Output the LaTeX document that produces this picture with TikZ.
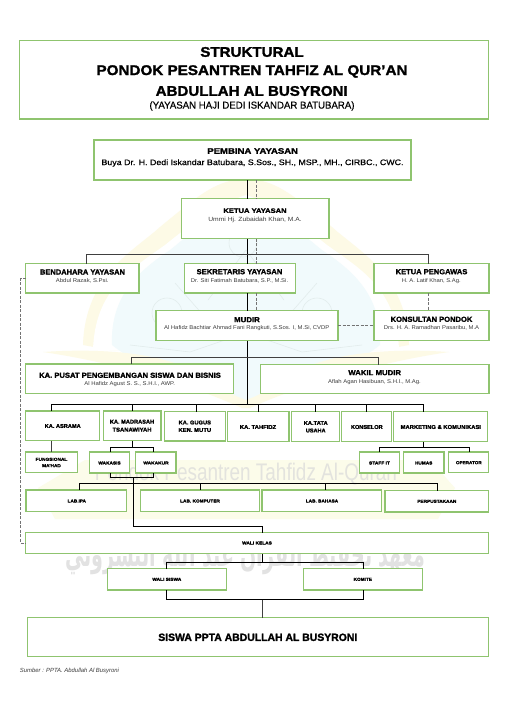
\documentclass[tikz,border=0pt]{standalone}
\usepackage{graphicx}
\usepackage{fontspec}
\setmainfont{Liberation Sans}[BoldFeatures={FakeBold=1.6}]
\newfontfamily\semifont[FakeBold=0.5]{Liberation Sans}
\newfontfamily\arabicwm[Script=Arabic]{DejaVu Sans}
\TeXXeTstate=1
\definecolor{boxgreen}{HTML}{8FC46F}
\definecolor{wmyellow}{HTML}{FDFAE6}
\definecolor{wmblue}{HTML}{F1FAFC}
\definecolor{wmbanner}{HTML}{FCFCEA}
\definecolor{wmline}{HTML}{E2ECEC}
\definecolor{wmtext}{HTML}{E3E3DE}
\definecolor{wmarab}{HTML}{E2E2E2}
\definecolor{subgray}{HTML}{3A3A3A}
\tikzset{
  orgbox/.style={draw=boxgreen,line width=1.1pt,fill=white,inner sep=0pt,outer sep=0pt},
  conn/.style={draw=black,line width=0.9pt},
  connsoft/.style={draw=black!75,line width=0.9pt},
  dashconn/.style={draw=black!55,line width=0.6pt,dash pattern=on 3pt off 1.5pt},
  lab/.style={inner sep=0pt,outer sep=0pt,anchor=center},
}
% name, x1, y1, x2, y2
\newcommand\obox[5]{\node[orgbox,minimum width={(#4-#2)*1pt},minimum height={(#5-#3)*1pt}] (#1) at ({(#2+#4)/2},{(#3+#5)/2}) {};}
% name, x, y, size, width, text  (bold)
\newcommand\hd[6]{\node[lab] (#1) at (#2,#3) {\fontsize{#4}{#4}\selectfont\bfseries\resizebox{#5pt}{\height}{#6}};}
% regular
\newcommand\nm[6]{\node[lab,text=subgray] (#1) at (#2,#3) {\fontsize{#4}{#4}\selectfont\resizebox{#5pt}{\height}{#6}};}
\begin{document}
\begin{tikzpicture}[x=1pt,y=-1pt]
\useasboundingbox (0,0) rectangle (508,718);
\fill[white] (0,0) rectangle (508,718);
% ---- watermark ----
\fill[wmyellow] (246,178) .. controls (215,182) and (205,190) .. (160,227) .. controls (135,250) and (85,275) .. (83,345) -- (110,350) -- (382,350) -- (409,345) .. controls (407,275) and (357,250) .. (332,227) .. controls (287,190) and (277,182) .. (246,178) -- cycle;
\fill[white] (246,195) .. controls (215,205) and (190,225) .. (165,245) .. controls (130,270) and (95,290) .. (93,350) -- (399,350) .. controls (397,290) and (362,270) .. (327,245) .. controls (302,225) and (277,205) .. (246,195) -- cycle;
\fill[wmblue] (246,200) .. controls (215,210) and (195,230) .. (170,250) .. controls (140,270) and (110,295) .. (112,345) .. controls (150,375) and (200,390) .. (246,400) .. controls (292,390) and (342,375) .. (380,345) .. controls (382,295) and (352,270) .. (322,250) .. controls (297,230) and (277,210) .. (246,200) -- cycle;
\fill[wmyellow] (43,352) .. controls (100,348) and (170,352) .. (205,378) .. controls (225,392) and (240,398) .. (246,400) .. controls (252,398) and (267,392) .. (287,378) .. controls (322,352) and (392,348) .. (449,352) .. controls (380,362) and (300,385) .. (250,408) -- (242,408) .. controls (192,385) and (112,362) .. (43,352) -- cycle;
\draw[wmline,line width=0.6pt] (167,313) circle[radius=15] (317,313) circle[radius=15] (243,243) circle[radius=14];
\draw[wmline,line width=0.6pt] (175,283) -- (225,340) -- (190,352) -- (130,345) (317,283) -- (267,340) -- (302,352) -- (362,345) (208,300) -- (246,250) -- (284,300);
\fill[wmbanner] (85,460) -- (430,460) -- (455,488) -- (438,519) -- (55,519) -- (38,488) -- cycle;
\node[lab,text=wmtext] (wmlatin) at (246,474) {\fontsize{24}{24}\selectfont\resizebox{302pt}{\height}{Pondok Pesantren Tahfidz Al-Quran}};
\node[lab,text=wmarab] (wmarabic) at (245,554) {\fontsize{34}{34}\arabicwm\bfseries\resizebox{360pt}{\height}{\beginR معهد تحفيظ القرآن عبد الله البشروني\endR}};
% ---- boxes ----
\obox{title}{19.5}{40.5}{488.5}{119}
\obox{pembina}{94}{140}{411}{180}
\obox{ketua}{181.5}{198.5}{329}{238.5}
\obox{bendahara}{25.5}{263.5}{139}{293}
\obox{sekretaris}{184.5}{263.5}{295.5}{293}
\obox{pengawas}{374}{263.5}{489}{293}
\obox{mudir}{156}{310.5}{338}{340.5}
\obox{konsultan}{374}{310.5}{489}{340.5}
\obox{pusat}{25.5}{364}{233.5}{393.5}
\obox{wakil}{260.5}{364.5}{489}{393.5}
\obox{asrama}{25.5}{411}{99.5}{440.5}
\obox{madrasah}{103.5}{411}{161}{440.5}
\obox{gugus}{164.5}{411.5}{225.5}{441}
\obox{tahfidz}{227.5}{411.5}{289}{441.5}
\obox{tata}{291.5}{411.5}{339.5}{441.5}
\obox{konselor}{341.5}{411.5}{391.5}{441.5}
\obox{marketing}{393.5}{411.5}{487.5}{441.5}
\obox{fungsional}{25.5}{452}{77.5}{472.5}
\obox{wakasis}{89.5}{452}{129.5}{473}
\obox{wakakur}{135.5}{452}{176}{473}
\obox{staff}{359.5}{452}{399.5}{473}
\obox{humas}{403.5}{452}{444}{473}
\obox{operator}{448.5}{452}{488.5}{472.5}
\obox{labipa}{26}{490}{126.5}{511.5}
\obox{labkom}{140.5}{490}{259.5}{511.5}
\obox{labbhs}{262}{490}{381.5}{511.5}
\obox{perpus}{385}{490.5}{488.5}{512}
\obox{walikelas}{25.5}{532.5}{488.5}{553.5}
\obox{walisiswa}{107.5}{568.5}{226.5}{590}
\obox{komite}{303.5}{568.5}{422.5}{590}
\obox{siswa}{27.5}{617.5}{488.5}{656.5}
% ---- connector guide coordinates ----
\coordinate (tr) at (247.5,0);
\coordinate (dsh) at (256.5,0);
\coordinate (barA) at (0,254.5);
\coordinate (barB) at (0,357);
\coordinate (barC) at (0,404);
\coordinate (barD) at (0,447.5);
\coordinate (barE) at (0,477);
\coordinate (barF) at (0,483.5);
\coordinate (barG) at (0,526);
\coordinate (barH) at (0,562);
\coordinate (barI) at (0,599.5);
\coordinate (xBen) at (86.5,0);
\coordinate (xPen) at (428,0);
\coordinate (xPus) at (131,0);
\coordinate (xWak) at (378.5,0);
\coordinate (xAsr) at (51.5,0);
\coordinate (xMad) at (132.5,0);
\coordinate (xGug) at (196,0);
\coordinate (xTah) at (258.5,0);
\coordinate (xMkt) at (423.3,0);
\coordinate (xAs) at (110,0);
\coordinate (xAk) at (153.5,0);
\coordinate (xTrk) at (133.5,0);
\coordinate (xWK) at (262.5,0);
\coordinate (xWS) at (166,0);
\coordinate (xKom) at (363.5,0);
\coordinate (xSt) at (379.5,0);
\coordinate (xOp) at (469.5,0);
\coordinate (xLI) at (79.5,0);
\coordinate (xLK) at (200,0);
\coordinate (xLB) at (325,0);
\coordinate (xLP) at (437,0);
\coordinate (xL) at (20.5,0);
% ---- dashed ----
\draw[dashconn] (dsh |- pembina.south) -- (dsh |- ketua.north);
\draw[dashconn] (dsh |- ketua.south) -- (dsh |- sekretaris.north);
\draw[dashconn] (dsh |- sekretaris.south) -- (dsh |- mudir.north);
\draw[dashconn] (xPen |- pengawas.south) -- (xPen |- konsultan.north);
\draw[dashconn] (mudir.east) -- (konsultan.west);
\draw[dashconn] (bendahara.west) -- (xL |- bendahara.west) -- (xL |- walikelas.west) -- (walikelas.west);
% ---- solid ----
\draw[conn] (tr |- pembina.south) -- (tr |- ketua.north);
\draw[conn] (tr |- ketua.south) -- (tr |- sekretaris.north);
\draw[conn] (tr |- sekretaris.south) -- (tr |- mudir.north);
\draw[conn] (tr |- mudir.south) -- (tr |- barC);
\draw[connsoft] (xBen |- bendahara.north) -- (xBen |- barA) -- (xPen |- barA) -- (xPen |- pengawas.north);
\draw[connsoft] (xPus |- pusat.north) -- (xPus |- barB) -- (xWak |- barB) -- (xWak |- wakil.north);
\draw[conn] (xAsr |- asrama.north) -- (xAsr |- barC) -- (xMkt |- barC) -- (xMkt |- marketing.north);
\draw[conn] (xMad |- barC) -- (xMad |- madrasah.north);
\draw[conn] (xGug |- barC) -- (xGug |- gugus.north);
\draw[conn] (xTah |- barC) -- (xTah |- tahfidz.north);
\draw[conn] (tata.north |- barC) -- (tata.north);
\draw[conn] (konselor.north |- barC) -- (konselor.north);
\draw[connsoft] (xAsr |- asrama.south) -- (xAsr |- fungsional.north);
% madrasah bracket
\draw[conn] (xMad |- madrasah.south) -- (xMad |- barD);
\draw[conn] (xAs |- wakasis.north) -- (xAs |- barD) -- (xAk |- barD) -- (xAk |- wakakur.north);
\draw[conn] (xAs |- wakasis.south) -- (xAs |- barE) -- (xAk |- barE) -- (xAk |- wakakur.south);
\draw[conn] (xTrk |- barE) -- (xTrk |- barG) -- (xWK |- barG) -- (xWK |- walikelas.north);
\draw[conn] (xLI |- labipa.north) -- (xLI |- barF) -- (xLP |- barF) -- (xLP |- perpus.north);
\draw[conn] (xLK |- barF) -- (xLK |- labkom.north);
\draw[conn] (xLB |- barF) -- (xLB |- labbhs.north);
% marketing bracket
\draw[conn] (xMkt |- marketing.south) -- (xMkt |- barD);
\draw[conn] (xSt |- staff.north) -- (xSt |- barD) -- (xOp |- barD) -- (xOp |- operator.north);
% wali kelas
\draw[conn] (xWK |- walikelas.south) -- (xWK |- barH);
\draw[conn] (xWS |- walisiswa.north) -- (xWS |- barH) -- (xKom |- barH) -- (xKom |- komite.north);
\draw[conn] (xWS |- walisiswa.south) -- (xWS |- barI) -- (xKom |- barI) -- (xKom |- komite.south);
\draw[connsoft] (xWK |- barI) -- (xWK |- siswa.north);
% ---- text ----
\hd{t1}{252}{52}{14}{103.3}{STRUKTURAL}
\hd{t2}{252}{71.5}{14}{311}{PONDOK PESANTREN TAHFIZ AL QUR’AN}
\hd{t3}{251.7}{91}{14}{192}{ABDULLAH AL BUSYRONI}
\node[lab] (t4) at (252,106) {\fontsize{10}{10}\semifont\resizebox{205pt}{\height}{(YAYASAN HAJI DEDI ISKANDAR BATUBARA)}};
\hd{pa}{252.7}{151}{8}{90.7}{PEMBINA YAYASAN}
\node[lab] (pb) at (252.5,163) {\fontsize{8}{8}\semifont\resizebox{302pt}{\height}{Buya Dr. H. Dedi Iskandar Batubara, S.Sos., SH., MSP.,  MH., CIRBC., CWC.}};
\hd{ka}{255}{210.7}{6.5}{63.3}{KETUA YAYASAN}
\nm{kb}{255}{220}{6}{93.3}{Ummi Hj. Zubaidah Khan, M.A.}
\hd{ba}{82.5}{272}{7.3}{85}{BENDAHARA YAYASAN}
\nm{bb}{82.3}{280.7}{5.5}{52.7}{Abdul Razak, S.Psi.}
\hd{sa}{239.5}{271.7}{7.3}{85.7}{SEKRETARIS YAYASAN}
\nm{sb}{239.5}{281}{5.5}{97.3}{Dr. Siti Fatimah Batubara, S.P., M.Si.}
\hd{ga}{431.5}{271.7}{7.3}{71.7}{KETUA PENGAWAS}
\nm{gb}{431.3}{281}{5.5}{58.7}{H. A. Latif Khan, S.Ag.}
\hd{ma}{247}{319.7}{7.3}{25.7}{MUDIR}
\nm{mb}{246.7}{328.3}{5.5}{165.3}{Al Hafidz Bachtiar Ahmad Fani Rangkuti, S.Sos. I, M.Si, CVDP}
\hd{oa}{431.5}{319.3}{7.3}{81.7}{KONSULTAN PONDOK}
\nm{ob}{431.5}{328}{5.5}{95.3}{Drs. H. A. Ramadhan Pasaribu, M.A}
\hd{ua}{130}{375.3}{7.3}{181.7}{KA. PUSAT PENGEMBANGAN SISWA DAN BISNIS}
\nm{ub}{129.7}{383.7}{5.5}{90.7}{Al Hafidz Agust S. S., S.H.I., AWP.}
\hd{wa}{374.7}{372.7}{7.3}{52.7}{WAKIL MUDIR}
\nm{wb}{374.5}{382}{5.5}{92.7}{Aflah Agan Hasibuan, S.H.I., M.Ag.}
\hd{r1}{62.7}{426}{5.6}{36}{KA. ASRAMA}
\hd{r2a}{132}{421.7}{5.6}{44.3}{KA. MADRASAH}
\hd{r2b}{132}{429.7}{5.6}{39}{TSANAWIYAH}
\hd{r3a}{194.8}{422.5}{5.6}{32.3}{KA. GUGUS}
\hd{r3b}{194.8}{430}{5.6}{32.7}{KEN. MUTU}
\hd{r4}{258}{427}{5.6}{36.3}{KA. TAHFIDZ}
\hd{r5a}{315.7}{423}{5.6}{24}{KA.TATA}
\hd{r5b}{315.7}{430.5}{5.6}{19.7}{USAHA}
\hd{r6}{366.8}{427}{5.6}{31.7}{KONSELOR}
\hd{r7}{440.8}{427}{5.6}{80.3}{MARKETING \& KOMUNIKASI}
\hd{s1a}{51.5}{459.3}{4.3}{31.7}{FUNGSIONAL}
\hd{s1b}{51.5}{465.7}{4.3}{18.7}{MA’HAD}
\hd{s2}{109.5}{463}{4.3}{22.3}{WAKASIS}
\hd{s3}{156}{463}{4.3}{25.3}{WAKAKUR}
\hd{s4}{379.5}{463}{4.3}{21}{STAFF IT}
\hd{s5}{423.7}{463}{4.3}{17.3}{HUMAS}
\hd{s6}{468.8}{462.7}{4.3}{25.7}{OPERATOR}
\hd{l1}{76.8}{501}{4.3}{18.3}{LAB.IPA}
\hd{l2}{200}{501}{4.3}{39.7}{LAB. KOMPUTER}
\hd{l3}{322}{501}{4.3}{32.3}{LAB. BAHASA}
\hd{l4}{436.8}{501.3}{4.3}{39}{PERPUSTAKAAN}
\hd{wk}{257}{543}{4.3}{29.7}{WALI KELAS}
\hd{ws}{166.8}{579.3}{4.3}{29}{WALI SISWA}
\hd{wo}{362.8}{579.3}{4.3}{18.3}{KOMITE}
\hd{si}{257.8}{637.3}{10.5}{199}{SISWA PPTA ABDULLAH AL BUSYRONI}
\node[lab,text=subgray] (src) at (69.5,670.5) {\fontsize{6}{6}\selectfont\itshape\resizebox{99pt}{\height}{Sumber : PPTA. Abdullah Al Busyroni}};
\end{tikzpicture}
\end{document}
